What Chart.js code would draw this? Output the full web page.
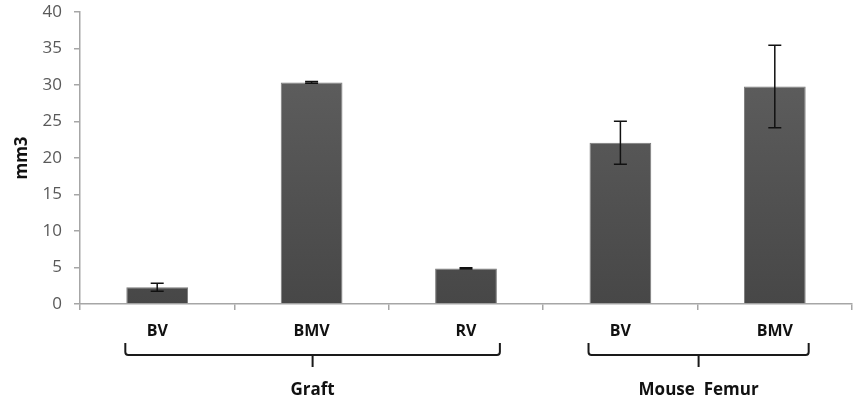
<!DOCTYPE html>
<html>
<head>
<meta charset="utf-8">
<script src="https://cdn.jsdelivr.net/npm/chart.js@4"></script>
<style>
html,body{margin:0;padding:0;background:#fff;}
#wrap{width:857px;height:406px;position:relative;}
</style>
</head>
<body>
<div id="wrap"><canvas id="c" width="857" height="406"></canvas></div>
<script>
const categories = ['BV', 'BMV', 'RV', 'BV', 'BMV'];
const values = [2.3, 30.35, 4.88, 22.1, 29.8];
const errors = [0.55, 0.12, 0.1, 2.95, 5.65];
const groupLabels = ['Graft', 'Mouse  Femur'];
const groupStart = [0, 3];
const groupEnd = [2, 4];
const yTicks = [0, 5, 10, 15, 20, 25, 30, 35, 40];
const yTitle = 'mm3';

const FONT = '"Open Sans", Lato, sans-serif';

const errorPlugin = {
  id: 'errbars',
  afterDatasetsDraw(chart) {
    const ctx = chart.ctx;
    const meta = chart.getDatasetMeta(0);
    const ys = chart.scales.y;
    ctx.save();
    ctx.strokeStyle = '#111';
    ctx.lineWidth = 1.5;
    meta.data.forEach((bar, i) => {
      const yt = ys.getPixelForValue(values[i] + errors[i]);
      const yb = ys.getPixelForValue(values[i] - errors[i]);
      const x = bar.x, cw = 6.5;
      ctx.beginPath();
      ctx.moveTo(x, yt); ctx.lineTo(x, yb);
      ctx.moveTo(x - cw, yt); ctx.lineTo(x + cw, yt);
      ctx.moveTo(x - cw, yb); ctx.lineTo(x + cw, yb);
      ctx.stroke();
    });
    ctx.restore();
  }
};

const bracePlugin = {
  id: 'braces',
  afterDraw(chart) {
    const ctx = chart.ctx;
    const meta = chart.getDatasetMeta(0);
    const bottom = chart.chartArea.bottom;
    const yTop = bottom + 39, yLine = bottom + 51, yStem = bottom + 63, yLab = bottom + 86;
    ctx.save();
    ctx.strokeStyle = '#1a1a1a';
    ctx.lineWidth = 2;
    ctx.lineJoin = 'round';
    groupLabels.forEach((lab, g) => {
      const b0 = meta.data[groupStart[g]], b1 = meta.data[groupEnd[g]];
      const x0 = b0.x - b0.width / 2 - 1;
      const x1 = b1.x + b1.width / 2 + 3;
      const xm = (x0 + x1) / 2;
      const r = 3;
      ctx.beginPath();
      ctx.moveTo(x0, yTop);
      ctx.lineTo(x0, yLine - r);
      ctx.quadraticCurveTo(x0, yLine, x0 + r, yLine);
      ctx.lineTo(x1 - r, yLine);
      ctx.quadraticCurveTo(x1, yLine, x1, yLine - r);
      ctx.lineTo(x1, yTop);
      ctx.moveTo(xm, yLine);
      ctx.lineTo(xm, yStem);
      ctx.stroke();
      ctx.fillStyle = '#111';
      ctx.font = 'bold 17px ' + FONT;
      ctx.textAlign = 'center';
      ctx.textBaseline = 'middle';
      ctx.fillText(lab, xm, yLab);
    });
    ctx.restore();
  }
};

function barGradient(context) {
  const chart = context.chart;
  const area = chart.chartArea;
  if (!area) return '#555';
  const g = chart.ctx.createLinearGradient(0, area.top, 0, area.bottom);
  g.addColorStop(0, '#636363');
  g.addColorStop(1, '#474747');
  return g;
}

new Chart(document.getElementById('c'), {
  type: 'bar',
  data: {
    labels: categories,
    datasets: [{
      data: values,
      backgroundColor: barGradient,
      borderColor: '#7a7a7a',
      borderWidth: 1,
      barPercentage: 0.8,
      categoryPercentage: 0.5
    }]
  },
  options: {
    responsive: false,
    animation: false,
    layout: { padding: { top: 12, right: 5, left: 0, bottom: 0 } },
    plugins: { legend: { display: false }, tooltip: { enabled: false } },
    scales: {
      x: {
        grid: {
          offset: true,
          drawOnChartArea: false,
          drawTicks: true,
          tickLength: 6,
          color: '#a6a6a6',
          lineWidth: 1.5
        },
        border: { color: '#a6a6a6', width: 1.5 },
        ticks: {
          color: '#111',
          font: { family: FONT, size: 16, weight: 'bold' },
          padding: 12
        },
        afterFit(scale) { scale.height = 102; }
      },
      y: {
        min: 0, max: 40,
        afterBuildTicks(scale) { scale.ticks = yTicks.map(v => ({ value: v })); },
        grid: {
          drawOnChartArea: false,
          drawTicks: true,
          tickLength: 6,
          color: '#a6a6a6',
          lineWidth: 1.5
        },
        border: { color: '#a6a6a6', width: 1.5 },
        ticks: {
          color: '#595959',
          font: { family: FONT, size: 17 },
          padding: 12
        },
        title: {
          display: true,
          text: yTitle,
          color: '#111',
          font: { family: FONT, size: 17, weight: 'bold' },
          padding: { top: 12, bottom: 0 }
        },
        afterFit(scale) {
          scale.width = 80;
          scale.paddingTop = 0;
          scale.paddingBottom = 0;
        }
      }
    }
  },
  plugins: [errorPlugin, bracePlugin]
});
</script>
</body>
</html>
